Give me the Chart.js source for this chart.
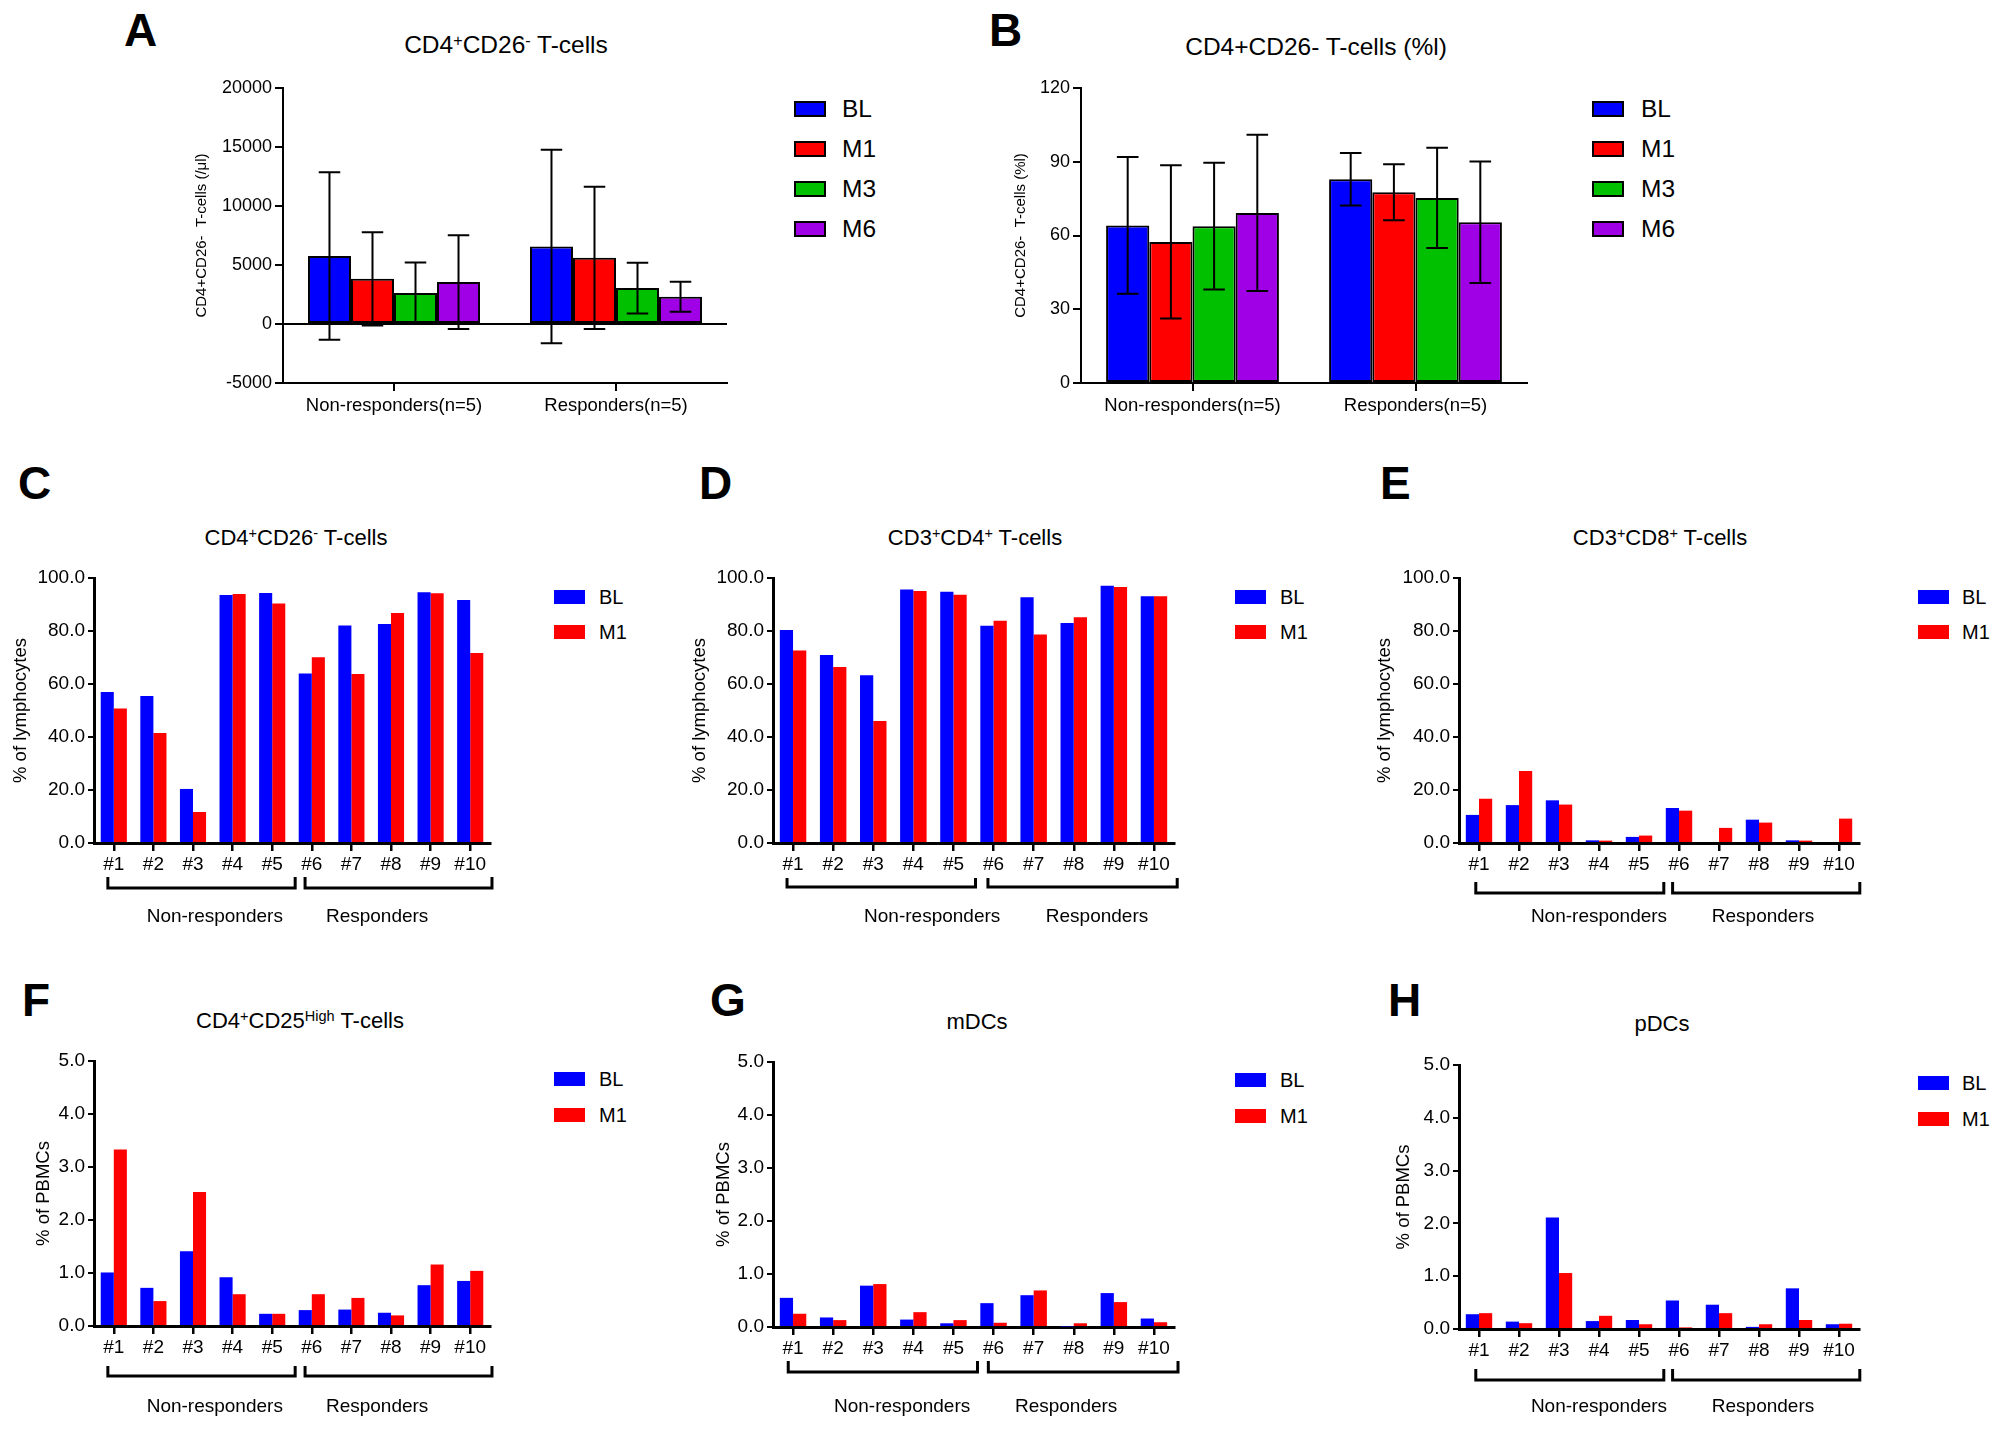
<!DOCTYPE html>
<html>
<head>
<meta charset="utf-8">
<title>T-cell and DC subsets</title>
<script src="https://cdn.jsdelivr.net/npm/chart.js@4.4.1/dist/chart.umd.min.js"></script>
<style>
    html, body { margin: 0; padding: 0; background: #fff; }
    body { width: 2000px; height: 1431px; position: relative; overflow: hidden; font-family: 'Liberation Sans', Arial, sans-serif; color: #000; }
    canvas { position: absolute; }
    .letter { position: absolute; font-weight: bold; font-size: 46px; line-height: 1; }
    .title { position: absolute; font-size: 22px; line-height: 1; white-space: nowrap; transform: translate(-50%, -50%); }
    .title sup { font-size: 0.66em; vertical-align: baseline; position: relative; top: -0.45em; }
    .lg-box { position: absolute; box-sizing: border-box; }
    .lg-text { position: absolute; line-height: 1; transform: translateY(-50%); white-space: nowrap; }
</style>
</head>
<body>
<script>
const FONT = "'Liberation Sans', Arial, sans-serif";

// ---- panels A and B: group means with SD ----
const groups = ['Non-responders(n=5)', 'Responders(n=5)'];
const timepoints = ['BL', 'M1', 'M3', 'M6'];
const timeColors = ['#0000ff', '#ff0000', '#00c000', '#a000e6'];

const absBL = [5770, 6570];
const absM1 = [3830, 5610];
const absM3 = [2620, 3050];
const absM6 = [3550, 2310];
const absSdBL = [7100, 8200];
const absSdM1 = [3950, 6030];
const absSdM3 = [2600, 2150];
const absSdM6 = [3970, 1270];
const absTicks = [-5000, 0, 5000, 10000, 15000, 20000];

const pctBL = [64.1, 82.9];
const pctM1 = [57.4, 77.6];
const pctM3 = [63.8, 75.3];
const pctM6 = [69.2, 65.4];
const pctSdBL = [27.8, 10.7];
const pctSdM1 = [31.2, 11.4];
const pctSdM3 = [25.8, 20.4];
const pctSdM6 = [31.8, 24.7];
const pctTicks = [0, 30, 60, 90, 120];

// ---- panels C-H: single patients, BL vs M1 ----
const patients = ['#1', '#2', '#3', '#4', '#5', '#6', '#7', '#8', '#9', '#10'];
const groupNames = ['Non-responders', 'Responders'];
const visits = ['BL', 'M1'];
const visitColors = ['#0000ff', '#ff0000'];
const lymphTicks = [0, 20, 40, 60, 80, 100];
const pbmcTicks = [0, 1, 2, 3, 4, 5];

const cd26BL = [57.0, 55.5, 20.4, 93.6, 94.3, 64.0, 82.1, 82.6, 94.6, 91.7];
const cd26M1 = [50.8, 41.5, 11.7, 94.0, 90.4, 70.1, 63.8, 86.8, 94.2, 71.7];
const cd4BL = [80.4, 70.9, 63.3, 95.7, 94.8, 82.0, 92.7, 83.0, 97.1, 93.1];
const cd4M1 = [72.6, 66.4, 46.0, 95.1, 93.7, 83.9, 78.7, 85.2, 96.6, 93.1];
const cd8BL = [10.6, 14.3, 16.1, 1.0, 2.3, 13.2, 0, 8.8, 1.0, 0];
const cd8M1 = [16.7, 27.2, 14.5, 0.9, 2.8, 12.2, 5.7, 7.7, 0.9, 9.2];
const tregBL = [1.01, 0.72, 1.41, 0.92, 0.23, 0.30, 0.31, 0.25, 0.77, 0.85];
const tregM1 = [3.33, 0.47, 2.53, 0.60, 0.23, 0.60, 0.53, 0.20, 1.16, 1.04];
const mdcBL = [0.55, 0.18, 0.78, 0.14, 0.07, 0.45, 0.60, 0.01, 0.64, 0.16];
const mdcM1 = [0.25, 0.13, 0.81, 0.28, 0.13, 0.08, 0.69, 0.07, 0.47, 0.09];
const pdcBL = [0.28, 0.14, 2.11, 0.15, 0.17, 0.54, 0.46, 0.04, 0.77, 0.09];
const pdcM1 = [0.30, 0.11, 1.06, 0.25, 0.09, 0.03, 0.30, 0.09, 0.17, 0.10];

const fmtInt = v => String(v);
const fmtOne = v => v.toFixed(1);

// layout of each panel (page pixels); area = chart area [left, top, right, bottom]
const panels = [
    { letter: 'A', letterAt: [124, 13], title: 'CD4<sup>+</sup>CD26<sup>-</sup> T-cells', titleAt: [506, 45], titleSize: 24.5,
      labels: groups, names: timepoints, colors: timeColors, series: [absBL, absM1, absM3, absM6],
      errors: [absSdBL, absSdM1, absSdM3, absSdM6], ticks: absTicks, fmt: fmtInt, zeroLine: true,
      yTitle: 'CD4+CD26-  T-cells (/\u03bcl)', yTitleX: 202, yTitleSize: 15, tickSize: 18, xTickSize: 18.5,
      area: [283, 88, 727, 383], below: 45, xPad: 4, catPct: 0.775,
      legend: { boxX: 794, boxW: 32, boxH: 16, textX: 842, ys: [108.5, 149, 188.5, 228.5], size: 24.5, border: true } },
    { letter: 'B', letterAt: [989, 13], title: 'CD4+CD26- T-cells (%l)', titleAt: [1316, 47], titleSize: 24.5,
      labels: groups, names: timepoints, colors: timeColors, series: [pctBL, pctM1, pctM3, pctM6],
      errors: [pctSdBL, pctSdM1, pctSdM3, pctSdM6], ticks: pctTicks, fmt: fmtInt,
      yTitle: 'CD4+CD26-  T-cells (%l)', yTitleX: 1021, yTitleSize: 15, tickSize: 18, xTickSize: 18.5,
      area: [1081, 88, 1527, 383], below: 45, xPad: 4, catPct: 0.775,
      legend: { boxX: 1592, boxW: 32, boxH: 16, textX: 1641, ys: [108.5, 149, 188.5, 228.5], size: 24.5, border: true } },
    { letter: 'C', letterAt: [18, 466], title: 'CD4<sup>+</sup>CD26<sup>-</sup> T-cells', titleAt: [296, 538],
      series: [cd26BL, cd26M1], ticks: lymphTicks, yTitle: '% of lymphocytes', yTitleX: 21,
      area: [94, 578, 490, 843], brackets: [[-0.15, 4.58], [4.83, 9.55]], groupAt: [2.55, 6.65],
      bracketTop: 34, bracketY: 45, labelY: 74, legend: { boxX: 554, textX: 599, ys: [596.5, 632] } },
    { letter: 'D', letterAt: [699, 466], title: 'CD3<sup>+</sup>CD4<sup>+</sup> T-cells', titleAt: [975, 538],
      series: [cd4BL, cd4M1], ticks: lymphTicks, yTitle: '% of lymphocytes', yTitleX: 700,
      area: [773, 578, 1174, 843], brackets: [[-0.15, 4.55], [4.86, 9.58]], groupAt: [3.47, 7.58],
      bracketTop: 35, bracketY: 44, labelY: 74, legend: { boxX: 1235, textX: 1280, ys: [596.5, 632] } },
    { letter: 'E', letterAt: [1380, 466], title: 'CD3<sup>+</sup>CD8<sup>+</sup> T-cells', titleAt: [1660, 538],
      series: [cd8BL, cd8M1], ticks: lymphTicks, yTitle: '% of lymphocytes', yTitleX: 1385,
      area: [1459, 578, 1859, 843], brackets: [[-0.08, 4.62], [4.84, 9.52]], groupAt: [3.0, 7.1],
      bracketTop: 39, bracketY: 50, labelY: 74, legend: { boxX: 1918, textX: 1962, ys: [596.5, 632] } },
    { letter: 'F', letterAt: [22, 983], title: 'CD4<sup>+</sup>CD25<sup>High</sup> T-cells', titleAt: [300, 1021],
      series: [tregBL, tregM1], ticks: pbmcTicks, yTitle: '% of PBMCs', yTitleX: 44,
      area: [94, 1061, 490, 1326], brackets: [[-0.15, 4.58], [4.83, 9.55]], groupAt: [2.55, 6.65],
      bracketTop: 40, bracketY: 50, labelY: 81, legend: { boxX: 554, textX: 599, ys: [1079, 1114.5] } },
    { letter: 'G', letterAt: [710, 983], title: 'mDCs', titleAt: [977, 1022],
      series: [mdcBL, mdcM1], ticks: pbmcTicks, yTitle: '% of PBMCs', yTitleX: 724,
      area: [773, 1062, 1174, 1327], brackets: [[-0.12, 4.6], [4.87, 9.6]], groupAt: [2.72, 6.81],
      bracketTop: 34, bracketY: 45, labelY: 80, legend: { boxX: 1235, textX: 1280, ys: [1080, 1116] } },
    { letter: 'H', letterAt: [1388, 983], title: 'pDCs', titleAt: [1662, 1024],
      series: [pdcBL, pdcM1], ticks: pbmcTicks, yTitle: '% of PBMCs', yTitleX: 1404,
      area: [1459, 1065, 1859, 1329], brackets: [[-0.08, 4.62], [4.84, 9.52]], groupAt: [3.0, 7.1],
      bracketTop: 40, bracketY: 51, labelY: 78, legend: { boxX: 1918, textX: 1962, ys: [1082.5, 1118.5] } }
];

// error bars (mean +/- SD) on top of the bars
const errorBars = {
    id: 'errorBars',
    afterDatasetsDraw(chart) {
        const ctx = chart.ctx, y = chart.scales.y;
        ctx.save();
        ctx.strokeStyle = '#000';
        ctx.lineWidth = 2;
        chart.data.datasets.forEach((ds, i) => {
            if (!ds.errors) return;
            chart.getDatasetMeta(i).data.forEach((bar, j) => {
                const v = ds.data[j], e = ds.errors[j];
                const top = y.getPixelForValue(v + e), bot = y.getPixelForValue(v - e);
                const half = bar.width / 4;
                ctx.beginPath();
                ctx.moveTo(bar.x, top); ctx.lineTo(bar.x, bot);
                ctx.moveTo(bar.x - half, top); ctx.lineTo(bar.x + half, top);
                ctx.moveTo(bar.x - half, bot); ctx.lineTo(bar.x + half, bot);
                ctx.stroke();
            });
        });
        ctx.restore();
    }
};

// brackets + group names under the patient axis
function groupBrackets(p) {
    return {
        id: 'groupBrackets',
        afterDraw(chart) {
            const ctx = chart.ctx, x = chart.scales.x, base = chart.chartArea.bottom;
            ctx.save();
            ctx.strokeStyle = '#000';
            ctx.lineWidth = 3;
            p.brackets.forEach(([a, b]) => {
                const x0 = x.getPixelForValue(a), x1 = x.getPixelForValue(b);
                ctx.beginPath();
                ctx.moveTo(x0, base + p.bracketTop);
                ctx.lineTo(x0, base + p.bracketY);
                ctx.lineTo(x1, base + p.bracketY);
                ctx.lineTo(x1, base + p.bracketTop);
                ctx.stroke();
            });
            ctx.fillStyle = '#000';
            ctx.font = `19px ${FONT}`;
            ctx.textAlign = 'center';
            ctx.textBaseline = 'middle';
            groupNames.forEach((name, k) => ctx.fillText(name, x.getPixelForValue(p.groupAt[k]), base + p.labelY));
            ctx.restore();
        }
    };
}

function addDiv(cls, left, top, html) {
    const d = document.createElement('div');
    d.className = cls;
    d.style.left = left + 'px';
    d.style.top = top + 'px';
    d.innerHTML = html;
    document.body.appendChild(d);
    return d;
}

function drawPanel(p) {
    const withErrors = !!p.errors;
    const names = p.names || visits;
    const colors = p.colors || visitColors;
    const labels = p.labels || patients;
    const yTitleSize = p.yTitleSize || 18.5;
    const below = p.below || 95;
    const [L, T, R, B] = p.area;

    // canvas placed so that the chart area lands on p.area
    const left = Math.round(p.yTitleX - 0.6 * yTitleSize);
    const top = T - 25;
    const width = R + 15 - left;
    const height = B + below - top;
    const yWidth = L - left;

    const canvas = document.createElement('canvas');
    canvas.width = width;
    canvas.height = height;
    canvas.style.left = left + 'px';
    canvas.style.top = top + 'px';
    document.body.appendChild(canvas);

    const datasets = p.series.map((data, i) => ({
        label: names[i],
        data: data,
        errors: withErrors ? p.errors[i] : null,
        backgroundColor: colors[i],
        borderColor: '#000',
        borderWidth: withErrors ? 2 : 0,
        borderSkipped: false,
        barPercentage: 1.0,
        categoryPercentage: p.catPct || 0.66
    }));

    const ticks = p.ticks;
    const plugins = withErrors ? [errorBars] : [groupBrackets(p)];

    new Chart(canvas, {
        type: 'bar',
        data: { labels, datasets },
        plugins,
        options: {
            responsive: false,
            animation: false,
            layout: { padding: { left: 0, top: 25, right: 15, bottom: 0 } },
            plugins: { legend: { display: false }, tooltip: { enabled: false }, title: { display: false } },
            scales: {
                x: {
                    offset: true,
                    grid: { display: true, drawOnChartArea: false, drawTicks: true, tickLength: 8, lineWidth: withErrors ? 2 : 2.5, color: '#000', offset: false },
                    border: { display: true, color: '#000', width: withErrors ? 2 : 3 },
                    ticks: { color: '#000', font: { family: FONT, size: p.xTickSize || 19 }, padding: p.xPad || 2, autoSkip: false, maxRotation: 0, minRotation: 0 },
                    afterFit: s => { s.height = below; }
                },
                y: {
                    min: ticks[0],
                    max: ticks[ticks.length - 1],
                    afterBuildTicks: s => { s.ticks = ticks.map(v => ({ value: v })); },
                    grid: {
                        display: true,
                        drawOnChartArea: !!p.zeroLine,
                        drawTicks: true,
                        tickLength: withErrors ? 8 : 6,
                        lineWidth: 2,
                        color: c => (p.zeroLine && c.tick && c.tick.value === 0) ? '#000' : 'rgba(0,0,0,0)',
                        tickColor: '#000'
                    },
                    border: { display: true, color: '#000', width: withErrors ? 2 : 3 },
                    ticks: { color: '#000', font: { family: FONT, size: p.tickSize || 19 }, padding: 3, callback: p.fmt || fmtOne },
                    title: { display: true, text: p.yTitle, color: '#000', font: { family: FONT, size: yTitleSize }, padding: 0 },
                    afterFit: s => { s.width = yWidth; }
                }
            }
        }
    });

    // panel letter, title, legend as page text
    addDiv('letter', p.letterAt[0], p.letterAt[1] - 6, p.letter);
    const t = addDiv('title', p.titleAt[0], p.titleAt[1], p.title);
    if (p.titleSize) t.style.fontSize = p.titleSize + 'px';
    const lg = p.legend;
    const boxW = lg.boxW || 31, boxH = lg.boxH || 14, size = lg.size || 20;
    names.forEach((name, i) => {
        const box = addDiv('lg-box', lg.boxX, lg.ys[i] - boxH / 2, '');
        box.style.width = boxW + 'px';
        box.style.height = boxH + 'px';
        box.style.background = colors[i];
        if (lg.border) box.style.border = '2px solid #000';
        const txt = addDiv('lg-text', lg.textX, lg.ys[i], name);
        txt.style.fontSize = size + 'px';
    });
}

panels.forEach(drawPanel);
</script>
</body>
</html>
